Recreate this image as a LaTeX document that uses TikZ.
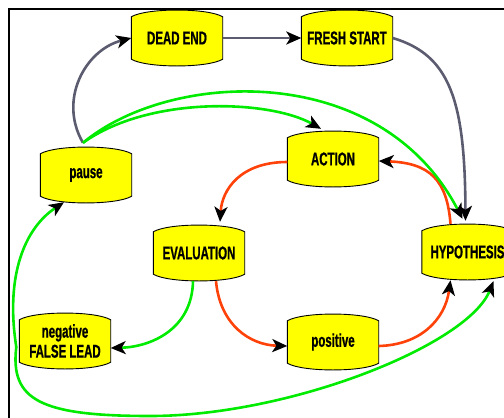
\documentclass[tikz,border=0pt]{standalone}
\usepackage{fontspec}
\newfontfamily\labelfont{Liberation Sans}[FakeStretch=0.62,BoldFeatures={FakeBold=0.8}]
\usetikzlibrary{arrows.meta,calc,backgrounds}

\definecolor{linkgray}{RGB}{92,92,112}
\definecolor{linkgreen}{RGB}{0,235,0}
\definecolor{linkred}{RGB}{255,66,10}
\definecolor{boxyellow}{RGB}{255,255,0}

\tikzset{
  state/.style={minimum width=91pt, minimum height=56pt, inner sep=0pt,
    align=center, font=\labelfont\bfseries\fontsize{18.5}{20}\selectfont},
  barrel/.style={fill=boxyellow, draw=black, line width=0.9pt},
  link/.style={line width=2.6pt,
    -{Stealth[length=15pt,width=13pt,inset=4pt,color=black]}},
  graylink/.style={link, draw=linkgray},
  greenlink/.style={link, draw=linkgreen},
  redlink/.style={link, draw=linkred},
}

\begin{document}
\begin{tikzpicture}[x=1pt,y=-1pt]
\useasboundingbox (0,0) rectangle (504,418);

% states
\node[state] (dead)   at (177,38)  {DEAD END};
\node[state] (fresh)  at (347,38)  {FRESH START};
\node[state] (pause)  at (86,175)  {pause};
\node[state] (action) at (333,159) {ACTION};
\node[state] (eval)   at (199,253) {EVALUATION};
\node[state] (hyp)    at (467.5,252) {HYPOTHESIS};
\node[state] (neg)    at (65,341)  {negative\\FALSE LEAD};
\node[state] (pos)    at (333,342) {positive};

% barrel outlines behind the labels
\begin{scope}[on background layer]
  \draw[line width=2pt] (9,418) -- (9,9) -- (504,9);
  \foreach \n in {dead,fresh,pause,action,eval,hyp,neg,pos} {
    \draw[barrel]
      ($(\n.north west)+(0,7)$)
        .. controls ($(\n.north west)+(15,-2)$) and ($(\n.north east)+(-15,-2)$)
        .. ($(\n.north east)+(0,7)$)
      -- ($(\n.south east)+(0,-7)$)
        .. controls ($(\n.south east)+(-15,2)$) and ($(\n.south west)+(15,2)$)
        .. ($(\n.south west)+(0,-7)$)
      -- cycle;
  }
\end{scope}

% shared end points
\coordinate (pauseout) at ($(pause.north)+(-3,-4)$);
\coordinate (negout)   at ($(neg.west)+(-3,6)$);

% gray: dead-end loop
\draw[graylink] (pauseout) .. controls (58,100) and (85,50) .. (dead.west);
\draw[graylink] (dead.east) -- (fresh.west);
\draw[graylink] (fresh.east) .. controls (450,55) and (465,100) .. ($(hyp.north)+(-2,-3)$);

% red: research cycle
\draw[redlink] ($(action.west)+(0,3)$) .. controls (240,162) and (222,190) .. ($(eval.north)+(21,-3)$);
\draw[redlink] ($(hyp.north)+(-17,0)$) .. controls (447,180) and (430,163) .. ($(action.east)+(0,2)$);
\draw[redlink] ($(eval.south)+(17,0)$) .. controls (220,325) and (250,345) .. ($(pos.west)+(0,4)$);
\draw[redlink] ($(pos.east)+(0,4)$) .. controls (420,345) and (445,320) .. ($(hyp.south)+(-17,0)$);

% green: false leads and pauses
\draw[greenlink] ($(eval.south)+(-6,0)$) .. controls (192,330) and (150,347) .. ($(neg.east)+(0,7)$);
\draw[greenlink] (pauseout) .. controls (150,95) and (270,100) .. ($(action.north)+(-12,-2)$);
\draw[greenlink] (pauseout) .. controls (170,70) and (380,60) .. ($(hyp.north)+(-5,-5)$);
\draw[greenlink] (negout) .. controls (5,275) and (25,228) .. ($(pause.south)+(-22,-1)$);
\draw[greenlink] (negout) .. controls (10,400) and (40,416) .. (150,416)
  .. controls (290,416) and (468,345) .. ($(hyp.south)+(26,1)$);
\end{tikzpicture}
\end{document}
